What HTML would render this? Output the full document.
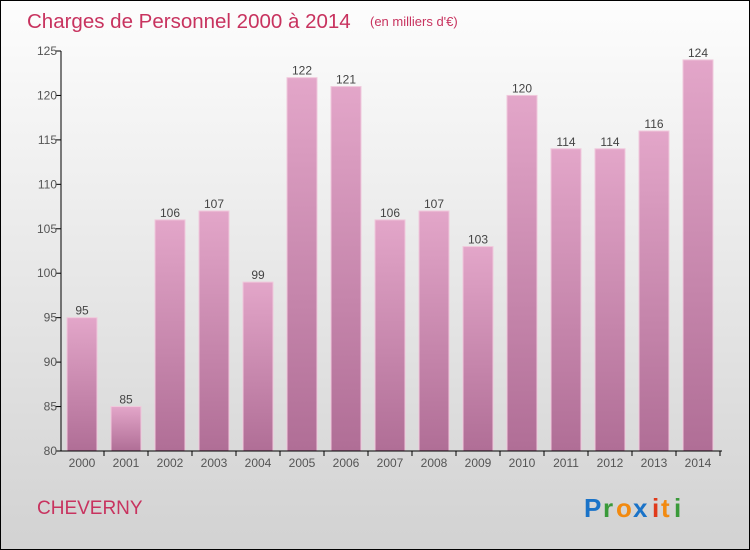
<!DOCTYPE html>
<html><head><meta charset="utf-8"><style>
body{margin:0;}
#wrap{width:748px;height:548px;border:1px solid #000;background:linear-gradient(#fdfdfd,#d2d2d2);position:relative;overflow:hidden;font-family:"Liberation Sans",sans-serif;}
</style></head><body>
<div id="wrap">
<svg id="svg" width="748" height="548" xmlns="http://www.w3.org/2000/svg">
<defs><linearGradient id="bg" x1="0" y1="0" x2="0" y2="1"><stop offset="0" stop-color="#e3a6c9"/><stop offset="1" stop-color="#b06e96"/></linearGradient></defs>
<text x="26" y="27" font-size="20.5" fill="#c8335f">Charges de Personnel 2000 à 2014</text>
<text x="369" y="25" font-size="13" fill="#c8335f">(en milliers d'€)</text>
<text x="36" y="513" font-size="19" fill="#c8335f">CHEVERNY</text>
<g font-size="26" font-weight="bold">
<text x="583" y="516" fill="#1a73c8">P</text><text x="602" y="516" fill="#3a9a3a">r</text><text x="615" y="516" fill="#f28a10">o</text><text x="632" y="516" fill="#1a73c8">x</text><text x="651" y="516" fill="#e03a1a">i</text><text x="660" y="516" fill="#f28a10">t</text><text x="673" y="516" fill="#3a9a3a">i</text></g>
<g id="plot"></g>
</svg></div>
<script>
const categories=["2000","2001","2002","2003","2004","2005","2006","2007","2008","2009","2010","2011","2012","2013","2014"];
const values=[95,85,106,107,99,122,121,106,107,103,120,114,114,116,124];
const yTicks=[80,85,90,95,100,105,110,115,120,125];
const NS="http://www.w3.org/2000/svg";
const g=document.getElementById('plot');
const y=v=>450-(v-80)*(400/45);
const x=i=>81+i*44;
function mk(t,a){const e=document.createElementNS(NS,t);for(const k in a)e.setAttribute(k,a[k]);g.appendChild(e);return e;}
yTicks.forEach(t=>{
 const l=mk('line',{x1:55,x2:60,y1:y(t),y2:y(t),stroke:'#000'});
 
 
 const tx=mk('text',{x:56,y:y(t)+4,'text-anchor':'end','font-size':12,fill:'#555'});
 tx.textContent=t;
 
 
});
values.forEach((v,i)=>{
 const r=mk('rect',{x:x(i)-15,y:y(v),width:30,height:450-y(v),fill:'url(#bg)',stroke:'#f0c8dc','stroke-width':1});
 
 
 const vt=mk('text',{x:x(i),y:y(v)-3,'text-anchor':'middle','font-size':12,fill:'#444'});
 vt.textContent=v;
 
 
 const tk=mk('line',{x1:x(i)+22,x2:x(i)+22,y1:450,y2:455,stroke:'#000'});
 
 
 const ct=mk('text',{x:x(i),y:466,'text-anchor':'middle','font-size':12,fill:'#555'});
 ct.textContent=categories[i];
 
 
});
const ya=mk('line',{x1:60,x2:60,y1:50,y2:450,stroke:'#000'});


const xa=mk('line',{x1:60,x2:721,y1:450,y2:450,stroke:'#000'});


</script>
</body></html>
